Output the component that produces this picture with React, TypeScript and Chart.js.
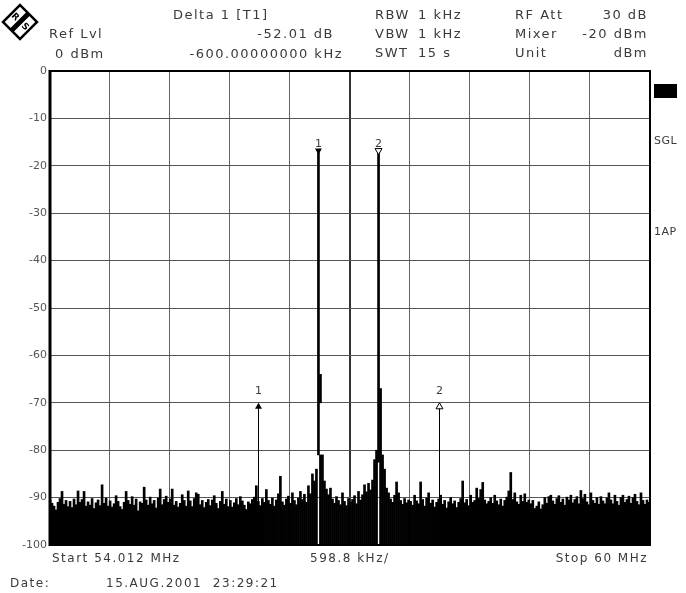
import { useEffect, useRef } from 'react';
import { Chart, registerables } from 'chart.js';
Chart.register(...registerables);

// ---- data ----
const START_MHZ = 54.012;
const STOP_MHZ = 60.0;
const DIVISIONS = 10;
const Y_MIN = -100;
const Y_MAX = 0;
const Y_STEP = 10;

// peak level of each of 300 trace bins (dBm), left to right
const traceMax = [
  -90.5, -91.2, -91.8, -92.6, -91.0, -90.2, -88.7, -91.4, -90.6, -91.9,
  -90.8, -92.1, -90.3, -91.5, -88.6, -91.0, -90.4, -88.7, -91.8, -90.9,
  -91.6, -90.2, -92.3, -91.1, -90.5, -91.7, -87.3, -91.2, -90.1, -91.8,
  -90.7, -92.0, -91.3, -89.6, -90.8, -91.9, -92.5, -91.0, -88.7, -90.6,
  -91.4, -89.8, -91.6, -90.3, -92.8, -90.9, -91.2, -87.8, -90.5, -91.6,
  -89.9, -91.3, -90.6, -92.2, -90.1, -88.2, -91.5, -90.4, -89.7, -91.0,
  -90.3, -88.2, -91.6, -90.8, -92.0, -91.2, -89.4, -90.6, -91.8, -88.6,
  -90.7, -91.9, -90.2, -89.0, -89.3, -91.5, -90.6, -92.1, -91.0, -90.4,
  -91.7, -90.5, -89.6, -91.2, -92.3, -90.8, -88.7, -91.4, -90.3, -91.9,
  -90.6, -92.0, -91.1, -90.2, -91.5, -89.8, -90.7, -91.6, -92.5, -90.9,
  -91.3, -90.4, -89.9, -87.5, -90.8, -91.7, -90.2, -91.0, -88.3, -90.6,
  -91.4, -90.1, -91.8, -90.5, -89.2, -85.5, -90.9, -91.6, -90.3, -89.7,
  -91.2, -89.0, -90.6, -91.5, -90.1, -88.7, -90.4, -89.3, -91.0, -87.5,
  -89.2, -85.0, -86.5, -84.0, -17.0, -81.0, -81.0, -86.5, -88.2, -89.4,
  -88.0, -90.3, -91.2, -89.8, -90.6, -91.5, -89.0, -90.8, -91.7, -90.2,
  -91.0, -90.4, -89.6, -91.3, -88.7, -90.5, -89.4, -87.3, -88.8, -87.0,
  -88.4, -86.3, -82.0, -80.0, -17.0, -67.0, -81.0, -84.0, -88.0, -89.0,
  -90.3, -91.0, -89.5, -86.7, -89.0, -90.6, -91.4, -90.2, -91.1, -90.5,
  -90.8, -91.6, -89.5, -90.7, -91.3, -86.7, -90.4, -91.8, -90.1, -89.0,
  -91.2, -90.5, -92.0, -91.0, -90.3, -89.5, -91.4, -90.6, -92.2, -90.9,
  -90.0, -91.3, -90.7, -92.1, -91.0, -90.2, -86.5, -91.1, -90.4, -91.7,
  -89.5, -91.0, -90.6, -88.0, -90.2, -88.3, -86.8, -90.5, -91.3, -90.8,
  -90.0, -91.2, -89.5, -90.7, -91.5, -90.3, -91.8, -90.6, -89.9, -88.6,
  -84.7, -90.4, -89.0, -90.9, -91.4, -89.5, -90.8, -89.2, -91.0, -90.5,
  -91.3, -90.6, -92.3, -91.8, -90.9, -92.4, -91.5, -90.0, -91.2, -89.8,
  -89.5, -90.7, -91.4, -90.2, -89.6, -91.0, -90.3, -91.6, -89.9, -90.5,
  -89.5, -91.1, -90.4, -89.8, -91.3, -88.5, -90.2, -89.3, -90.9, -91.5,
  -89.0, -90.6, -91.2, -90.0, -91.4, -89.8, -90.7, -91.3, -90.1, -89.0,
  -90.5, -91.3, -89.5, -90.8, -91.6, -90.0, -89.5, -91.0, -90.4, -89.7,
  -91.2, -90.0, -89.3, -90.8, -91.5, -89.0, -90.6, -91.4, -90.5, -91.0,
];
// bins whose trace does not reach the bottom of the screen
const gapBins = [134, 164];
const gapMins = [-81.0, -82.5];
// extra trace segments (bin, low, high)
const segBins = [135];
const segLows = [-70.0];
const segHighs = [-64.0];

// markers
const markerLabels = ['1', '2'];
const markerBins = [134, 164];
const markerLevels = [-17.0, -17.0];
const deltaLabels = ['1', '2'];
const deltaFreqs = [56.097, 57.895];
const deltaLevels = [-70.0, -70.0];

// header / footer texts
const headerLeft = ['Ref Lvl', '0 dBm'];
const headerDelta = ['Delta 1 [T1]', '-52.01 dB', '-600.00000000 kHz'];
const headerNames1 = ['RBW', 'VBW', 'SWT'];
const headerValues1 = ['1 kHz', '1 kHz', '15 s'];
const headerNames2 = ['RF Att', 'Mixer', 'Unit'];
const headerValues2 = ['30 dB', '-20 dBm', 'dBm'];
const sideLabels = ['SGL', '1AP'];
const footerStart = 'Start 54.012 MHz';
const footerSpan = '598.8 kHz/';
const footerStop = 'Stop 60 MHz';
const dateLabel = 'Date:';
const dateValue = '15.AUG.2001  23:29:21';

const binWidth = (STOP_MHZ - START_MHZ) / traceMax.length;
const binFreq = (i: number) => START_MHZ + (i + 0.5) * binWidth;
const divWidth = (STOP_MHZ - START_MHZ) / DIVISIONS;

const FONT = '"DejaVu Sans", sans-serif';
const TEXT_COLOR = '#3a3a3a';

function text(ctx: CanvasRenderingContext2D, s: string, x: number, y: number, align: CanvasTextAlign = 'left', size = 12, spacing = 1.5) {
  ctx.save();
  ctx.font = `${size}px ${FONT}`;
  (ctx as any).letterSpacing = `${spacing}px`;
  ctx.fillStyle = TEXT_COLOR;
  ctx.textAlign = align;
  ctx.textBaseline = 'alphabetic';
  ctx.fillText(s, x, y);
  ctx.restore();
}

function triangle(ctx: CanvasRenderingContext2D, x: number, tipY: number, dir: 1 | -1, filled: boolean) {
  const w = 3.5, h = 6;
  ctx.beginPath();
  ctx.moveTo(x, tipY);
  ctx.lineTo(x - w, tipY - dir * h);
  ctx.lineTo(x + w, tipY - dir * h);
  ctx.closePath();
  if (filled) {
    ctx.fillStyle = '#000';
    ctx.fill();
  } else {
    ctx.fillStyle = '#fff';
    ctx.fill();
    ctx.lineWidth = 1;
    ctx.strokeStyle = '#000';
    ctx.stroke();
  }
}

const decorPlugin = {
  id: 'decor',
  afterDatasetsDraw(chart: any) {
    const { ctx, chartArea: a, scales } = chart;
    const xs = scales.x, ys = scales.y;
    ctx.save();
    // frame
    ctx.strokeStyle = '#000';
    ctx.lineWidth = 3;
    ctx.beginPath();
    ctx.moveTo(a.left + 1, a.top - 1);
    ctx.lineTo(a.left + 1, a.bottom + 1);
    ctx.stroke();
    ctx.lineWidth = 2;
    ctx.beginPath();
    ctx.moveTo(a.left, a.top);
    ctx.lineTo(a.right, a.top);
    ctx.lineTo(a.right, a.bottom);
    ctx.lineTo(a.left, a.bottom);
    ctx.stroke();

    // peak markers
    markerBins.forEach((b, i) => {
      const x = xs.getPixelForValue(binFreq(b));
      const y = ys.getPixelForValue(markerLevels[i]);
      triangle(ctx, x, y + 3, 1, i === 0);
      text(ctx, markerLabels[i], x, y - 5, 'center', 11, 0);
    });
    // delta markers
    deltaFreqs.forEach((f, i) => {
      const x = Math.round(xs.getPixelForValue(f)) + 0.5;
      const y = ys.getPixelForValue(deltaLevels[i]);
      ctx.strokeStyle = '#000';
      ctx.lineWidth = 1;
      ctx.beginPath();
      ctx.moveTo(x, y + 4);
      ctx.lineTo(x, ys.getPixelForValue(-92));
      ctx.stroke();
      triangle(ctx, x, y, -1, i === 0);
      text(ctx, deltaLabels[i], x, y - 9, 'center', 11, 0);
    });
    ctx.restore();
  },
  afterDraw(chart: any) {
    const { ctx } = chart;
    ctx.save();
    // logo
    ctx.translate(20, 22);
    ctx.rotate(Math.PI / 4);
    ctx.strokeStyle = '#000';
    ctx.lineWidth = 2.5;
    ctx.strokeRect(-12, -12, 24, 24);
    ctx.fillStyle = '#000';
    ctx.fillRect(-2.5, -12, 5, 24);
    ctx.font = `bold 9px ${FONT}`;
    ctx.textAlign = 'center';
    ctx.textBaseline = 'middle';
    ctx.fillText('R', -7, 0);
    ctx.fillText('S', 7, 0);
    ctx.restore();

    // header
    const H = 13;
    text(ctx, headerLeft[0], 49, 38, 'left', H);
    text(ctx, headerLeft[1], 55, 58, 'left', H);
    text(ctx, headerDelta[0], 173, 19, 'left', H);
    text(ctx, headerDelta[1], 334, 38, 'right', H);
    text(ctx, headerDelta[2], 343, 58, 'right', H);
    const rows = [19, 38, 57];
    rows.forEach((y, i) => {
      text(ctx, headerNames1[i], 375, y, 'left', H);
      text(ctx, headerValues1[i], 418, y, 'left', H);
      text(ctx, headerNames2[i], 515, y, 'left', H);
      text(ctx, headerValues2[i], 648, y, 'right', H);
    });
    // side panel
    ctx.fillStyle = '#000';
    ctx.fillRect(654, 84, 23, 14);
    text(ctx, sideLabels[0], 654, 144, 'left', 11, 0.5);
    text(ctx, sideLabels[1], 654, 235, 'left', 11, 0.5);
    // footer
    text(ctx, footerStart, 52, 562);
    text(ctx, footerSpan, 310, 562);
    text(ctx, footerStop, 648, 562, 'right');
    text(ctx, dateLabel, 10, 587);
    text(ctx, dateValue, 106, 587);
  },
};

export default function App() {
  const ref = useRef<HTMLCanvasElement>(null);
  useEffect(() => {
    const mins = traceMax.map((_, i) => {
      const g = gapBins.indexOf(i);
      return g >= 0 ? gapMins[g] : Y_MIN;
    });
    const traceData = traceMax.map((v, i) => ({ x: binFreq(i), y: [mins[i], v] }));
    const segData = segBins.map((b, i) => ({ x: binFreq(b), y: [segLows[i], segHighs[i]] }));

    const chart = new Chart(ref.current!, {
      type: 'bar',
      data: {
        datasets: [
          {
            data: traceData as any,
            backgroundColor: '#000',
            borderWidth: 0,
            barPercentage: 1,
            categoryPercentage: 1,
            grouped: false,
          } as any,
          {
            data: segData as any,
            backgroundColor: '#000',
            borderWidth: 0,
            barPercentage: 1,
            categoryPercentage: 1,
            grouped: false,
          } as any,
        ],
      },
      options: {
        responsive: false,
        animation: false,
        devicePixelRatio: 1,
        layout: { padding: { left: 0, top: 71, right: 36, bottom: 48 } },
        plugins: { legend: { display: false }, tooltip: { enabled: false } },
        scales: {
          x: {
            type: 'linear',
            min: START_MHZ,
            max: STOP_MHZ,
            offset: false,
            border: { display: false },
            grid: {
              offset: false,
              drawTicks: false,
              color: (c: any) => (c.index === 5 ? '#333' : '#666'),
              lineWidth: (c: any) => (c.index === 5 ? 2 : 1),
            },
            ticks: { display: false },
            afterBuildTicks: (s: any) => {
              s.ticks = Array.from({ length: DIVISIONS + 1 }, (_, k) => ({ value: START_MHZ + k * divWidth }));
            },
            afterFit: (s: any) => {
              s.height = 0;
            },
          },
          y: {
            min: Y_MIN,
            max: Y_MAX,
            border: { display: false },
            grid: { color: '#555', drawTicks: false },
            ticks: {
              stepSize: Y_STEP,
              color: '#555',
              padding: 2,
              font: { family: FONT, size: 11 },
            },
            afterFit: (s: any) => {
              s.width = 49;
            },
          },
        },
      } as any,
      plugins: [decorPlugin],
    });
    return () => chart.destroy();
  }, []);
  return (
    <div style={{ position: 'absolute', left: 0, top: 0, width: 686, height: 593, background: '#fff' }}>
      <canvas ref={ref} width={686} height={593} style={{ display: 'block' }} />
    </div>
  );
}
